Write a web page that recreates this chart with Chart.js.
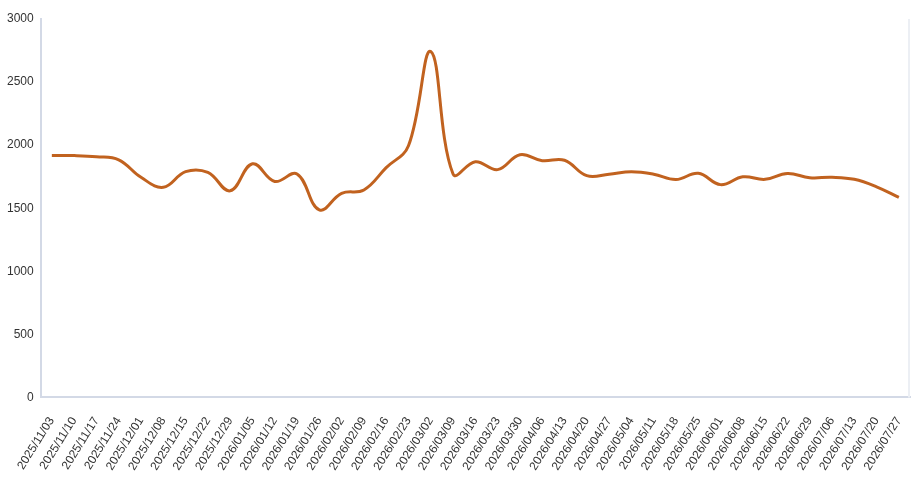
<!DOCTYPE html>
<html>
<head>
<meta charset="utf-8">
<script src="https://cdn.jsdelivr.net/npm/chart.js@4.4.1/dist/chart.umd.min.js"></script>
<style>
  html, body { margin: 0; padding: 0; background: #fff; }
  #wrap { width: 912px; height: 491px; position: relative; }
</style>
</head>
<body>
<div id="wrap"><canvas id="chart"></canvas></div>
<script>
// Weekly values, one point per Monday from 2025/11/03 to 2026/07/27.
const weekLabels = [
  "2025/11/03", "2025/11/10", "2025/11/17", "2025/11/24",
  "2025/12/01", "2025/12/08", "2025/12/15", "2025/12/22", "2025/12/29",
  "2026/01/05", "2026/01/12", "2026/01/19", "2026/01/26",
  "2026/02/02", "2026/02/09", "2026/02/16", "2026/02/23",
  "2026/03/02", "2026/03/09", "2026/03/16", "2026/03/23", "2026/03/30",
  "2026/04/06", "2026/04/13", "2026/04/20", "2026/04/27",
  "2026/05/04", "2026/05/11", "2026/05/18", "2026/05/25",
  "2026/06/01", "2026/06/08", "2026/06/15", "2026/06/22", "2026/06/29",
  "2026/07/06", "2026/07/13", "2026/07/20", "2026/07/27",
];

const weekValues = [
  1918, 1917, 1908, 1884,
  1745, 1666, 1790, 1784, 1638,
  1852, 1712, 1772, 1487,
  1618, 1645, 1822, 1995,
  2742, 1771, 1868, 1806, 1924,
  1877, 1880, 1758, 1770,
  1789, 1770, 1727, 1777,
  1687, 1749, 1729, 1776, 1742,
  1745, 1729, 1670, 1586,
];

const yTicks = { min: 0, max: 3000, step: 500 };

const LINE_COLOR = "#c1621f";
const FRAME_COLOR = "#d3d9e6";
const TICK_FONT = { family: "'Liberation Sans', Arial, sans-serif", size: 12 };

// Faint line on the right edge of the plot, like the card frame in the original.
const rightEdge = {
  id: "rightEdge",
  afterDraw(chart) {
    const { ctx, chartArea } = chart;
    ctx.save();
    ctx.strokeStyle = "#eceff4";
    ctx.lineWidth = 2;
    ctx.beginPath();
    ctx.moveTo(chartArea.right - 1, chartArea.top);
    ctx.lineTo(chartArea.right - 1, chartArea.bottom);
    ctx.stroke();
    ctx.restore();
  },
};

const ctx = document.getElementById("chart").getContext("2d");
new Chart(ctx, {
  type: "line",
  data: {
    labels: weekLabels,
    datasets: [{
      data: weekValues,
      borderColor: LINE_COLOR,
      backgroundColor: LINE_COLOR,
      borderWidth: 3,
      pointRadius: 0,
      tension: 0.4,
      fill: false,
    }],
  },
  options: {
    responsive: true,
    maintainAspectRatio: false,
    animation: false,
    layout: { padding: { top: 19, right: 2, bottom: 1, left: 0 } },
    plugins: { legend: { display: false }, tooltip: { enabled: false } },
    scales: {
      x: {
        offset: true,
        grid: { display: false, drawTicks: false },
        border: { display: true, color: FRAME_COLOR, width: 2 },
        ticks: {
          autoSkip: false,
          minRotation: 58,
          maxRotation: 58,
          padding: 17,
          color: "#333",
          font: TICK_FONT,
        },
        afterFit: (scale) => { scale.paddingRight = 0; },
      },
      y: {
        min: yTicks.min,
        max: yTicks.max,
        grid: { display: false, drawTicks: false },
        border: { display: true, color: FRAME_COLOR, width: 2 },
        ticks: {
          stepSize: yTicks.step,
          padding: 7,
          color: "#333",
          font: TICK_FONT,
          callback: (v) => String(v),
        },
      },
    },
  },
  plugins: [rightEdge],
});
</script>
</body>
</html>
